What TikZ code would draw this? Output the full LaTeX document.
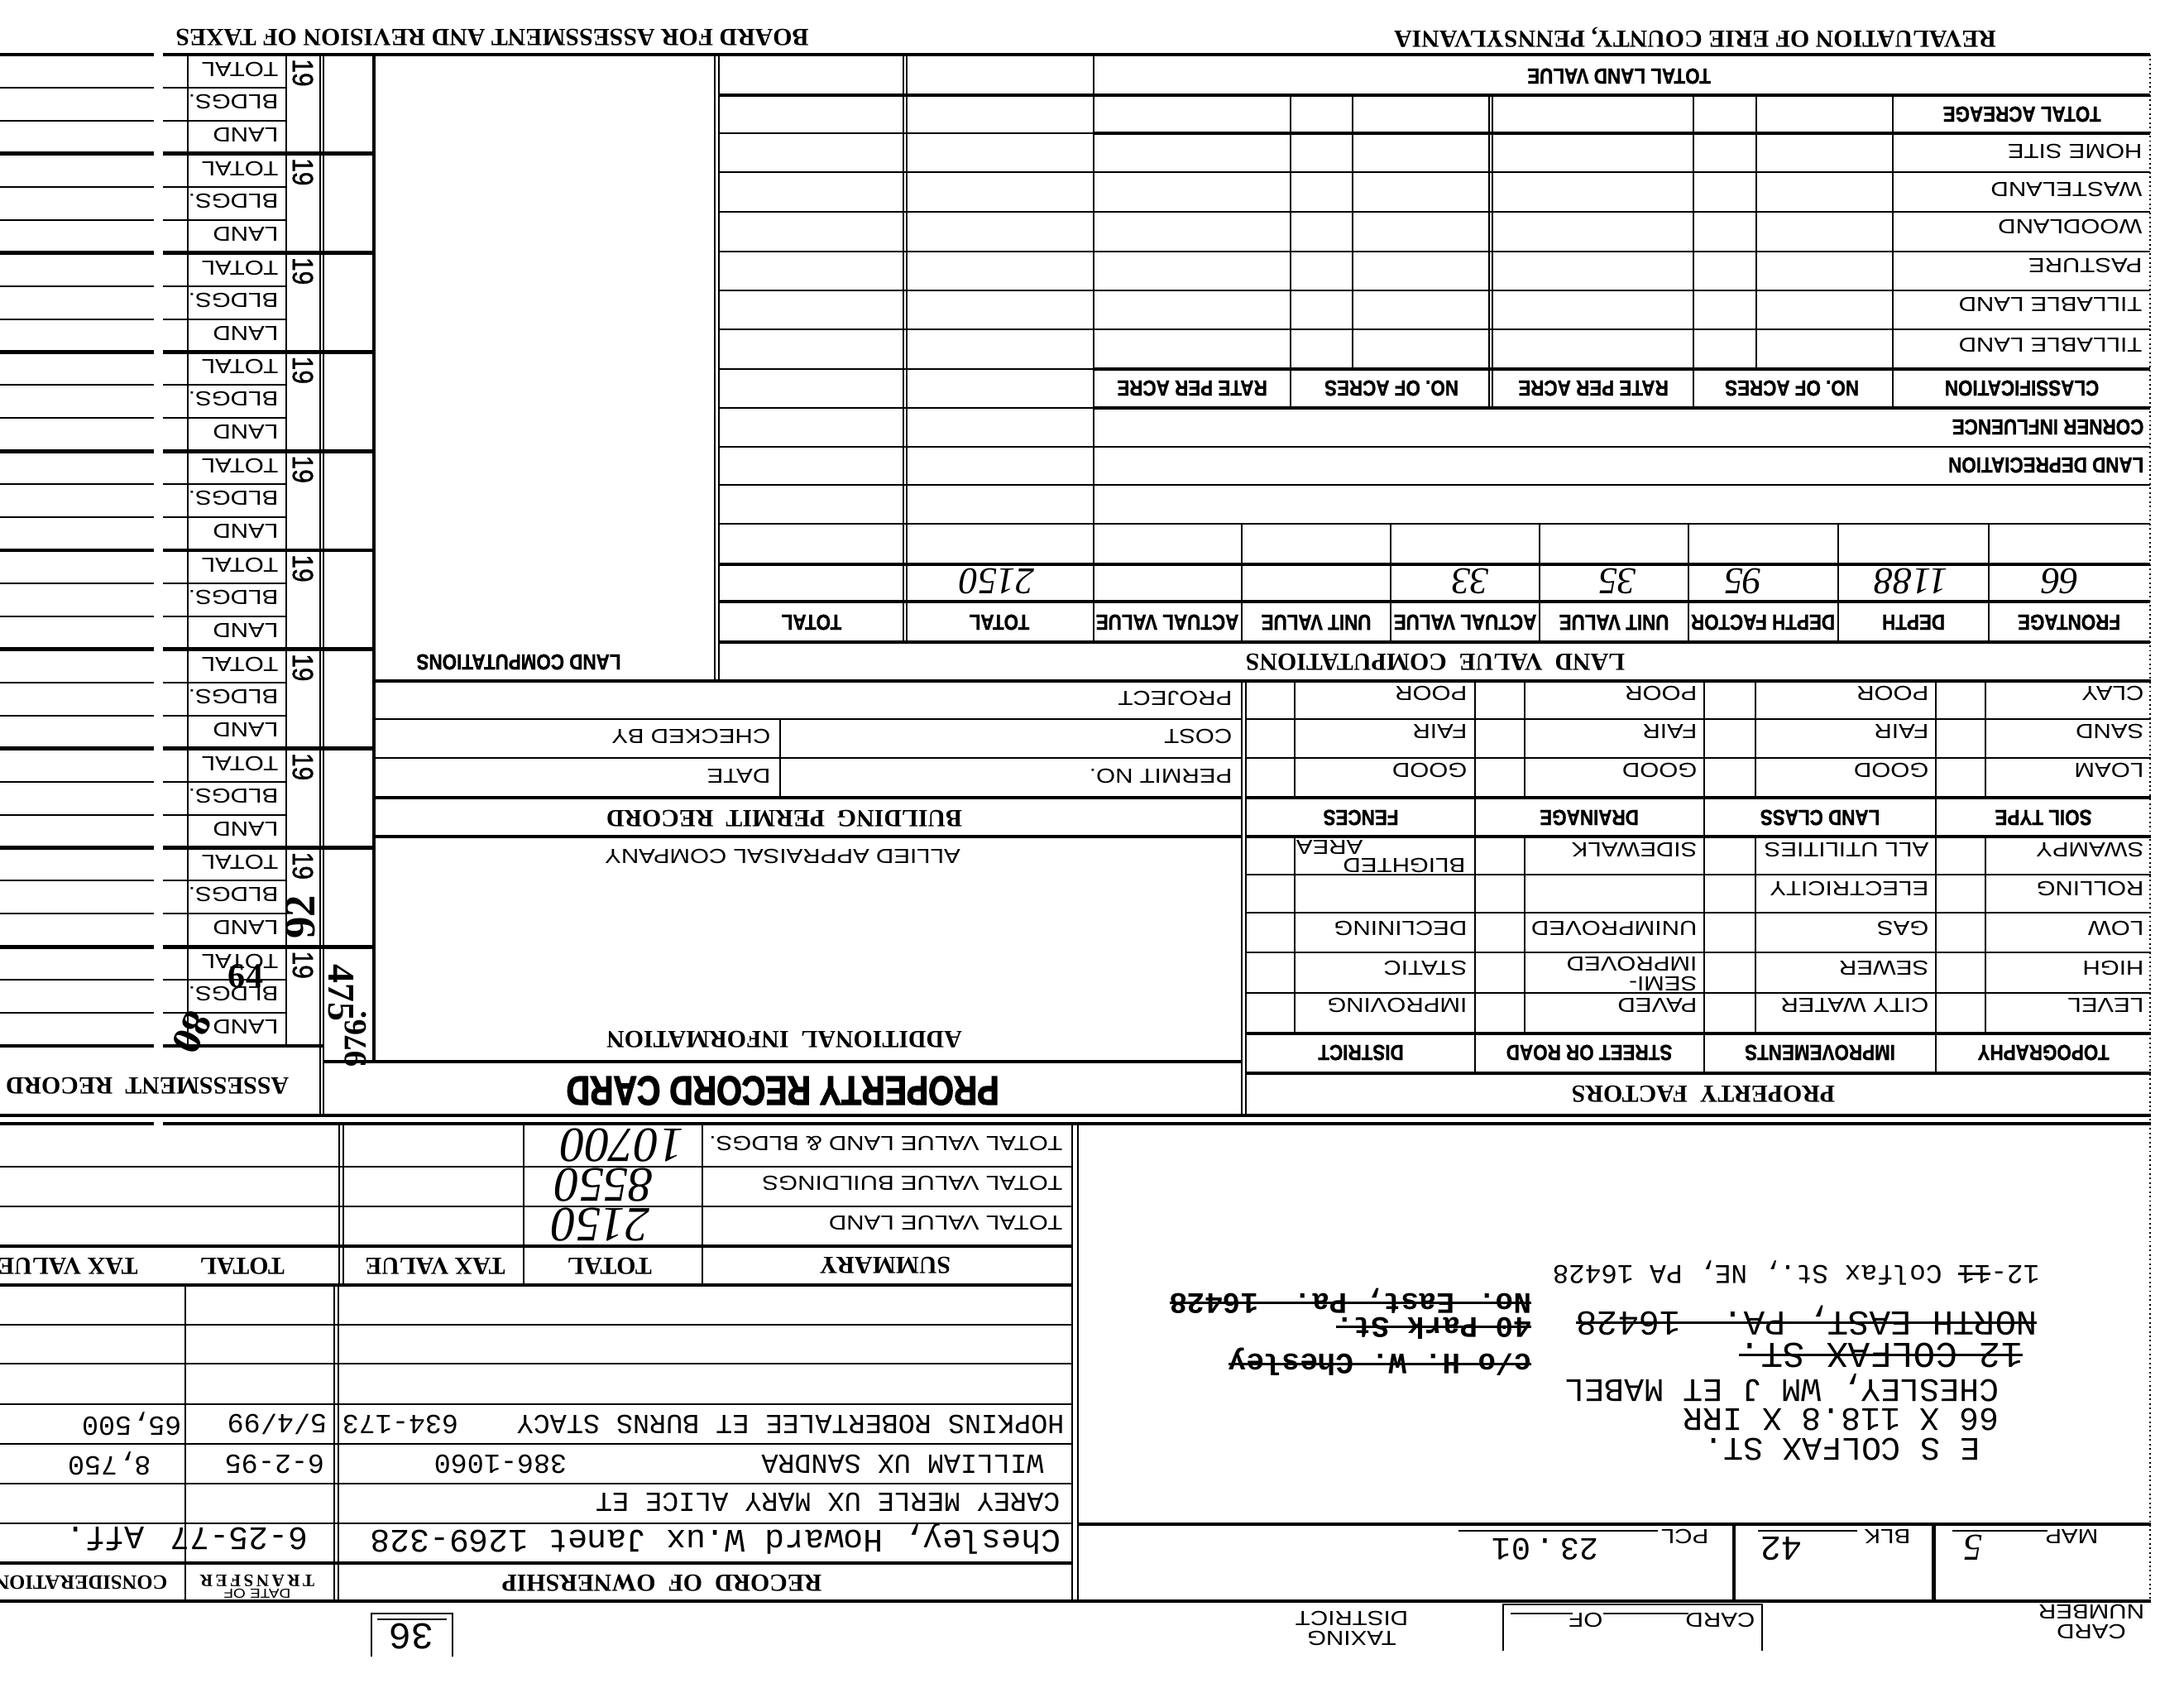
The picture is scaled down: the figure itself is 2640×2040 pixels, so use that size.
\documentclass[tikz,border=0pt]{standalone}
\usepackage{fontspec}
\usepackage{tikz}
\newfontfamily\formfont[FakeStretch=1.2]{Liberation Sans}
\newfontfamily\hdrfont[FakeStretch=0.85, FakeBold=1]{Liberation Sans}
\newfontfamily\cardfont[FakeStretch=0.8, FakeBold=2.5]{Liberation Sans}
\newfontfamily\ttlfont{Liberation Serif}
\newfontfamily\typfont{Liberation Mono}
\newfontfamily\handfont{Liberation Serif}
\newsavebox\strikebox
\newcommand\strikeout[1]{\sbox\strikebox{#1}\rlap{\rule[0.28em]{\wd\strikebox}{0.8pt}}\usebox\strikebox}
\tikzstyle{rule} = [line width=0.55pt]
\tikzstyle{heavy} = [line width=1.4pt]
\tikzstyle{lbl} = [rotate=180, inner sep=0pt, font=\formfont\fontsize{7}{8}\selectfont]
\tikzstyle{hdr} = [rotate=180, inner sep=0pt, font=\hdrfont\bfseries\fontsize{7.5}{8}\selectfont]
\tikzstyle{ttl} = [rotate=180, inner sep=0pt, font=\ttlfont\bfseries\fontsize{8.5}{9}\selectfont]
\tikzstyle{typ} = [rotate=180, inner sep=0pt, font=\typfont\fontsize{11.3}{12}\selectfont]
\tikzstyle{typs} = [rotate=180, inner sep=0pt, font=\typfont\fontsize{9.5}{10}\selectfont]
\tikzstyle{hand} = [rotate=180, inner sep=0pt, font=\handfont\itshape\fontsize{13}{14}\selectfont]

\begin{document}
\begin{tikzpicture}[x=0.01cm, y=-0.01cm]
    \useasboundingbox (0,0) rectangle (2640,2040);

    \node (board) [ttl] at (595,45) {BOARD FOR ASSESSMENT AND REVISION OF TAXES};
    \node (reval) [ttl] at (2049,45) {REVALUATION OF ERIE COUNTY, PENNSYLVANIA};
    \draw [heavy] (197,66) -- (2599,66);

    % assessment record
    \foreach \i in {0,...,9} {
        \pgfmathsetmacro{\yy}{66+119.8*\i}
        \draw [heavy] (0,\yy) -- (186,\yy) (197,\yy) -- (452,\yy);
        \draw [rule] (0,\yy+40) -- (186,\yy+40) (197,\yy+40) -- (346,\yy+40);
        \draw [rule] (0,\yy+80) -- (186,\yy+80) (197,\yy+80) -- (346,\yy+80);
        \node (tot\i) [lbl, anchor=west] at (337,\yy+18) {TOTAL};
        \node (bld\i) [lbl, anchor=west] at (337,\yy+57) {BLDGS.};
        \node (lnd\i) [lbl, anchor=west] at (337,\yy+97) {LAND};
        \node (yr\i) [lbl, rotate=90, font=\hdrfont\fontsize{10}{10}\selectfont] at (366,\yy+22) {19};
    }
    \draw [heavy] (0,1264) -- (186,1264) (197,1264) -- (391,1264);
    \draw [rule] (227,66) -- (227,1264);
    \draw [rule] (346,66) -- (346,1264);
    \draw [rule] (387,66) -- (387,1348) (391,66) -- (391,1348);
    \draw [heavy] (452,66) -- (452,1283);
    \draw [heavy] (391,1283) -- (1501,1283);
    \node (assrec) [ttl] at (178,1312) {ASSESSMENT\enskip RECORD};
    \node (n92) [hand, rotate=-90, font=\handfont\bfseries\fontsize{15}{15}\selectfont] at (363,1108) {92};
    \node (n475) [hand, rotate=90, font=\handfont\bfseries\fontsize{13}{13}\selectfont] at (412,1200) {475};
    \node (n976) [hand, rotate=-90, font=\handfont\bfseries\fontsize{11}{11}\selectfont] at (430,1256) {976.};
    \node (n80) [hand, rotate=64, font=\handfont\bfseries\fontsize{14}{14}\selectfont] at (232,1248) {80};
    \node (n64) [hand, rotate=180, font=\handfont\bfseries\fontsize{12}{12}\selectfont] at (297,1180) {64};

    % land computations box
    \draw [rule] (864,66) -- (864,823) (869,66) -- (869,823);
    \node (landcomp) [hdr] at (627,800) {LAND COMPUTATIONS};
    \draw [heavy] (452,823) -- (2600,823);

    % land table
    \draw [heavy] (869,115) -- (2599,115);
    \draw [rule] (869,161) -- (1322,161) (869,446) -- (1322,446) (869,493) -- (1322,493);
    \draw [heavy] (1322,161) -- (2599,161) (1322,446) -- (2599,446) (1322,493) -- (2599,493);
    \foreach \yy in {208,256,304,351,398,540,586,633}
        \draw [rule] (869,\yy) -- (2599,\yy);
    \draw [heavy] (869,682) -- (2599,682) (869,727) -- (2599,727) (869,776) -- (2599,776);
    \draw [rule] (1092,66) -- (1092,776) (1096,66) -- (1096,776) (1322,66) -- (1322,776);
    \foreach \xx in {1635,2123}
        \draw [rule] (\xx,115) -- (\xx,446);
    \foreach \xx in {1560,1800,1804,2047,2288}
        \draw [rule] (\xx,115) -- (\xx,493);
    \foreach \xx in {1501,1681,1861,2041,2222,2404}
        \draw [rule] (\xx,633) -- (\xx,776);
    \draw [rule, densely dotted] (2599,66) -- (2599,1935);

    \node (tlv) [hdr] at (1957,92) {TOTAL LAND VALUE};
    \node (tacre) [hdr] at (2444,138) {TOTAL ACREAGE};
    \node (homesite) [lbl, anchor=west] at (2590,183) {HOME SITE};
    \node (waste) [lbl, anchor=west] at (2590,229) {WASTELAND};
    \node (wood) [lbl, anchor=west] at (2590,274) {WOODLAND};
    \node (pasture) [lbl, anchor=west] at (2590,321) {PASTURE};
    \node (till1) [lbl, anchor=west] at (2590,368) {TILLABLE LAND};
    \node (till2) [lbl, anchor=west] at (2590,417) {TILLABLE LAND};
    \node (rate1) [hdr] at (1441,469) {RATE PER ACRE};
    \node (acres1) [hdr] at (1682,469) {NO. OF ACRES};
    \node (rate2) [hdr] at (1926,469) {RATE PER ACRE};
    \node (acres2) [hdr] at (2166,469) {NO. OF ACRES};
    \node (classif) [hdr] at (2444,469) {CLASSIFICATION};
    \node (corner) [hdr, anchor=west] at (2592,516) {CORNER INFLUENCE};
    \node (deprec) [hdr, anchor=west] at (2592,562) {LAND DEPRECIATION};

    \node (vfront) [hand] at (2490,702) {66};
    \node (vdepth) [hand] at (2310,702) {1188};
    \node (vfact) [hand] at (2107,702) {95};
    \node (vunit) [hand] at (1955,702) {35};
    \node (vact) [hand] at (1777,702) {33};
    \node (vtot) [hand] at (1205,702) {2150};

    \node (front) [hdr] at (2501,752) {FRONTAGE};
    \node (depth) [hdr] at (2313,752) {DEPTH};
    \node (dfact) [hdr] at (2131,752) {DEPTH FACTOR};
    \node (unit1) [hdr] at (1951,752) {UNIT VALUE};
    \node (act1) [hdr] at (1771,752) {ACTUAL VALUE};
    \node (unit2) [hdr] at (1591,752) {UNIT VALUE};
    \node (act2) [hdr] at (1411,752) {ACTUAL VALUE};
    \node (total1) [hdr] at (1208,752) {TOTAL};
    \node (total2) [hdr] at (981,752) {TOTAL};
    \node (lvc) [ttl] at (1735,800) {LAND\enskip VALUE\enskip COMPUTATIONS};

    % building permit record
    \draw [rule] (452,869) -- (1501,869) (452,916) -- (1501,916);
    \draw [heavy] (452,964) -- (1501,964) (452,1011) -- (1501,1011);
    \draw [rule] (943,869) -- (943,964);
    \draw [rule] (1501,823) -- (1501,1348) (1506,823) -- (1506,1348);
    \node (project) [lbl, anchor=west] at (1490,844) {PROJECT};
    \node (cost) [lbl, anchor=west] at (1490,890) {COST};
    \node (permit) [lbl, anchor=west] at (1490,938) {PERMIT NO.};
    \node (checked) [lbl, anchor=west] at (932,890) {CHECKED BY};
    \node (date) [lbl, anchor=west] at (932,938) {DATE};
    \node (bpr) [ttl] at (948,989) {BUILDING\enskip PERMIT\enskip RECORD};
    \node (allied) [lbl] at (946,1035) {ALLIED APPRAISAL COMPANY};
    \node (addinfo) [ttl] at (948,1256) {ADDITIONAL\enskip INFORMATION};
    \node (prc) [rotate=180, inner sep=0pt, font=\cardfont\bfseries\fontsize{14}{14}\selectfont] at (946,1318) {PROPERTY RECORD CARD};

    % property factors
    \foreach \yy in {869,916,1057,1103,1151,1200}
        \draw [rule] (1506,\yy) -- (2600,\yy);
    \draw [heavy] (1506,964) -- (2600,964) (1506,1011) -- (2600,1011) (1506,1249) -- (2600,1249) (1506,1297) -- (2600,1297);
    \foreach \xx in {1565,1843,2122,2400}
        \draw [rule] (\xx,823) -- (\xx,964) (\xx,1011) -- (\xx,1249);
    \foreach \xx in {1783,2060,2340}
        \draw [rule] (\xx,823) -- (\xx,1297);
    \node (clay) [lbl, anchor=west] at (2592,838) {CLAY};
    \node (sand) [lbl, anchor=west] at (2592,884) {SAND};
    \node (loam) [lbl, anchor=west] at (2592,931) {LOAM};
    \node (lcpoor) [lbl, anchor=west] at (2332,838) {POOR};
    \node (lcfair) [lbl, anchor=west] at (2332,884) {FAIR};
    \node (lcgood) [lbl, anchor=west] at (2332,931) {GOOD};
    \node (drpoor) [lbl, anchor=west] at (2052,838) {POOR};
    \node (drfair) [lbl, anchor=west] at (2052,884) {FAIR};
    \node (drgood) [lbl, anchor=west] at (2052,931) {GOOD};
    \node (fnpoor) [lbl, anchor=west] at (1774,838) {POOR};
    \node (fnfair) [lbl, anchor=west] at (1774,884) {FAIR};
    \node (fngood) [lbl, anchor=west] at (1774,931) {GOOD};
    \node (soil) [hdr] at (2470,988) {SOIL TYPE};
    \node (lclass) [hdr] at (2200,988) {LAND CLASS};
    \node (drain) [hdr] at (1921,988) {DRAINAGE};
    \node (fences) [hdr] at (1645,988) {FENCES};
    \node (swampy) [lbl, anchor=west] at (2592,1027) {SWAMPY};
    \node (rolling) [lbl, anchor=west] at (2592,1074) {ROLLING};
    \node (low) [lbl, anchor=west] at (2592,1122) {LOW};
    \node (high) [lbl, anchor=west] at (2592,1170) {HIGH};
    \node (level) [lbl, anchor=west] at (2592,1215) {LEVEL};
    \node (allutil) [lbl, anchor=west] at (2332,1027) {ALL UTILITIES};
    \node (electric) [lbl, anchor=west] at (2332,1074) {ELECTRICITY};
    \node (gas) [lbl, anchor=west] at (2332,1122) {GAS};
    \node (sewer) [lbl, anchor=west] at (2332,1170) {SEWER};
    \node (water) [lbl, anchor=west] at (2332,1215) {CITY WATER};
    \node (sidewalk) [lbl, anchor=west] at (2052,1027) {SIDEWALK};
    \node (unimp) [lbl, anchor=west] at (2052,1122) {UNIMPROVED};
    \node (semiimp) [lbl, anchor=west, align=left, font=\formfont\fontsize{7}{6.6}\selectfont] at (2052,1177) {SEMI-\\IMPROVED};
    \node (paved) [lbl, anchor=west] at (2052,1215) {PAVED};
    \node (blighted) [lbl, anchor=west] at (1772,1046) {BLIGHTED};
    \node (area) [lbl, anchor=west] at (1648,1024) {AREA};
    \node (declining) [lbl, anchor=west] at (1774,1122) {DECLINING};
    \node (static) [lbl, anchor=west] at (1774,1170) {STATIC};
    \node (improving) [lbl, anchor=west] at (1774,1215) {IMPROVING};
    \node (topo) [hdr] at (2470,1272) {TOPOGRAPHY};
    \node (improv) [hdr] at (2200,1272) {IMPROVEMENTS};
    \node (street) [hdr] at (1921,1272) {STREET OR ROAD};
    \node (district) [hdr] at (1645,1272) {DISTRICT};
    \node (propfact) [ttl] at (2059,1322) {PROPERTY\enskip FACTORS};
    \draw [heavy] (0,1348) -- (2600,1348);
    \draw [line width=0.9pt] (0,1358) -- (186,1358) (197,1358) -- (2600,1358);

    % summary
    \draw [rule] (0,1410) -- (1296,1410) (0,1458) -- (1296,1458);
    \draw [heavy] (0,1506) -- (1296,1506) (0,1553) -- (1296,1553);
    \draw [rule] (410,1358) -- (410,1553) (415,1358) -- (415,1553) (633,1358) -- (633,1553) (849,1358) -- (849,1553);
    \draw [rule] (1296,1358) -- (1296,1935) (1303,1358) -- (1303,1935);
    \node (tvlb) [lbl, anchor=west] at (1285,1382) {TOTAL VALUE LAND \& BLDGS.};
    \node (tvb) [lbl, anchor=west] at (1285,1430) {TOTAL VALUE BUILDINGS};
    \node (tvl) [lbl, anchor=west] at (1285,1478) {TOTAL VALUE LAND};
    \node (summary) [ttl] at (1070,1529) {SUMMARY};
    \node (stot1) [ttl] at (737,1530) {TOTAL};
    \node (stax1) [ttl] at (526,1530) {TAX VALUE};
    \node (stot2) [ttl] at (293,1530) {TOTAL};
    \node (stax2) [ttl] at (82,1530) {TAX VALUE};
    \node (hsum1) [hand, font=\handfont\itshape\fontsize{17}{17}\selectfont] at (752,1384) {10700};
    \node (hsum2) [hand, font=\handfont\itshape\fontsize{17}{17}\selectfont] at (730,1432) {8550};
    \node (hsum3) [hand, font=\handfont\itshape\fontsize{17}{17}\selectfont] at (726,1480) {2150};

    % record of ownership
    \foreach \yy in {1601,1648,1697,1745,1793,1841}
        \draw [rule] (0,\yy) -- (1296,\yy);
    \draw [heavy] (0,1889) -- (1296,1889) (0,1935) -- (2600,1935);
    \draw [rule] (224,1553) -- (224,1935) (404,1553) -- (404,1935) (409,1553) -- (409,1935);
    \node (own1) [typs, anchor=west] at (1287,1721) {HOPKINS ROBERTALEE ET BURNS STACY};
    \node (bk1) [typs] at (484,1721) {634-173};
    \node (dt1) [typs] at (335,1721) {5/4/99};
    \node (cn1) [typs, anchor=west] at (220,1721) {65,500};
    \node (own2) [typs, anchor=west] at (1262,1769) {WILLIAM UX SANDRA};
    \node (bk2) [typs] at (605,1769) {386-1060};
    \node (dt2) [typs] at (332,1769) {6-2-95};
    \node (cn2) [typs, anchor=west] at (183,1769) {8,750};
    \node (own3) [typs, anchor=west] at (1282,1815) {CAREY MERLE UX MARY ALICE ET};
    \node (own4) [typ, anchor=west] at (1283,1860) {Chesley, Howard W.ux Janet 1269-328};
    \node (dt4) [typ] at (289,1860) {6-25-77};
    \node (cn4) [typ] at (127,1860) {Aff.};
    \node (rown) [ttl] at (800,1913) {RECORD\enskip OF\enskip OWNERSHIP};
    \node (transfer) [ttl, font=\ttlfont\bfseries\fontsize{6}{6}\selectfont] at (311,1910) {T\,R\,A\,N\,S\,F\,E\,R};
    \node (dateof) [lbl, font=\formfont\fontsize{4.5}{5}\selectfont] at (311,1926) {DATE OF};
    \node (consid) [ttl, anchor=west, font=\ttlfont\bfseries\fontsize{7}{7}\selectfont] at (203,1913) {CONSIDERATION};
    \draw [rule] (449,2002) -- (449,1950) -- (547,1950) -- (547,2002);
    \draw [rule] (456,1957) -- (540,1957);
    \node (n36) [typ, font=\typfont\fontsize{13}{13}\selectfont] at (497,1978) {36};

    % address and map block
    \node (addr1) [typs, anchor=west, font=\typfont\fontsize{9.3}{10}\selectfont] at (2466,1538) {12-\strikeout{11} Colfax St., NE, PA 16428};
    \node (addr2) [typ, anchor=west, font=\typfont\fontsize{12}{12}\selectfont] at (2463,1596) {\strikeout{NORTH EAST, PA.\ \ 16428}};
    \node (addr3) [typ, anchor=west, font=\typfont\fontsize{12.5}{12}\selectfont] at (2446,1638) {\strikeout{12 COLFAX ST.}};
    \node (owner) [typ, anchor=west] at (2417,1677) {CHESLEY, WM J ET MABEL};
    \node (lotsize) [typ, anchor=west] at (2417,1716) {66 X 118.8 X IRR};
    \node (locat) [typ, anchor=west] at (2394,1752) {E S COLFAX ST.};
    \node (care1) [typ, anchor=west, font=\typfont\bfseries\fontsize{10.2}{11}\selectfont] at (1852,1572) {\strikeout{No. East, Pa.\ \ 16428}};
    \node (care2) [typ, anchor=west, font=\typfont\bfseries\fontsize{10.2}{11}\selectfont] at (1852,1605) {\strikeout{40 Park St.}};
    \node (care3) [typ, anchor=west, font=\typfont\bfseries\fontsize{10.2}{11}\selectfont] at (1852,1646) {\strikeout{c/o H. W. Chesley}};
    \draw [heavy] (1303,1842) -- (2600,1842);
    \draw [heavy] (2096,1842) -- (2096,1935) (2337,1842) -- (2337,1935);
    \node (map) [lbl, anchor=west] at (2537,1857) {MAP};
    \draw [rule] (2360,1850) -- (2475,1850);
    \node (vmap) [hand] at (2385,1870) {5};
    \node (blk) [lbl, anchor=west] at (2310,1857) {BLK};
    \draw [rule] (2125,1850) -- (2245,1850);
    \node (vblk) [typ, font=\typfont\fontsize{12}{12}\selectfont] at (2153,1872) {42};
    \node (pcl) [lbl, anchor=west] at (2066,1857) {PCL};
    \draw [rule] (1763,1850) -- (2004,1850);
    \node (vpcl) [typ, font=\typfont\fontsize{11}{11}\selectfont] at (1868,1872) {23\,.\,01};

    \node (cardnum) [lbl, align=center, font=\formfont\fontsize{7}{6.6}\selectfont] at (2528,1960) {CARD\\NUMBER};
    \draw [rule] (1817,1995) -- (1817,1939) -- (2130,1939) -- (2130,1995);
    \node (cardof) [lbl, anchor=west] at (2122,1958) {CARD};
    \node (ofc) [lbl, anchor=west] at (1938,1958) {OF};
    \draw [rule] (1938,1950) -- (2041,1950) (1826,1950) -- (1901,1950);
    \node (taxdist) [lbl, align=center, font=\formfont\fontsize{7}{6.8}\selectfont] at (1634,1968) {TAXING\\DISTRICT};
\end{tikzpicture}
\end{document}
